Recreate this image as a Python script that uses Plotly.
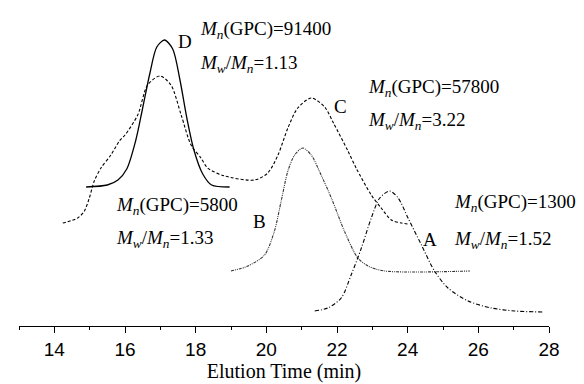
import plotly.graph_objects as go

# ---- data (elution time in min, detector response in arbitrary units) ----
t_D = [14.90, 15.50, 15.80, 16.05, 16.30, 16.50, 16.70, 16.90, 17.12, 17.35, 17.55, 17.75, 17.95, 18.20, 18.45, 18.96]
y_D = [139, 141, 146, 157, 185, 218, 252, 279, 286, 277, 247, 208, 176, 152, 141, 139]

t_C = [14.24, 14.66, 14.85, 14.99, 15.13, 15.32, 15.60, 15.84, 16.00, 16.36, 16.64, 16.99, 17.30, 17.59, 17.87,
       18.15, 18.34, 18.82, 19.67, 20.04, 20.33, 20.61, 20.89, 21.27, 21.65, 21.90, 22.31, 22.54, 22.97, 23.25,
       23.54, 23.82, 24.01]
y_C = [103, 108, 115, 128, 145, 158, 171, 185, 191, 211, 241, 250, 241, 211, 181,
       168, 158, 150, 146, 153, 171, 198, 218, 228, 219, 203, 175, 158, 131, 118,
       106, 103, 102]

t_B = [19.00, 19.48, 19.95, 20.23, 20.42, 20.61, 20.80, 21.03, 21.27, 21.55, 21.84, 22.22, 22.59, 22.88, 23.35, 25.76]
y_B = [55, 60, 71, 95, 125, 155, 171, 178, 171, 151, 128, 94, 68, 60, 55, 55]

t_A = [21.37, 21.74, 22.12, 22.40, 22.69, 22.97, 23.21, 23.49, 23.73, 24.01, 24.39, 24.76, 25.14, 25.71, 26.37,
       27.03, 27.83]
y_A = [15, 18, 28, 51, 78, 108, 128, 135, 128, 108, 81, 55, 38, 25, 18, 15, 14]

curve_labels = ["A", "B", "C", "D"]
mn_labels = ["1300", "5800", "57800", "91400"]
pdi_labels = ["1.52", "1.33", "3.22", "1.13"]

x_ticks = [14, 16, 18, 20, 22, 24, 26, 28]

fig = go.Figure()

fig.add_trace(go.Scatter(x=t_D, y=y_D, mode="lines", name="D",
                         line=dict(color="black", width=1.3, shape="spline", smoothing=0.8)))
fig.add_trace(go.Scatter(x=t_C, y=y_C, mode="lines", name="C",
                         line=dict(color="black", width=1.1, dash="3px,2px", shape="spline", smoothing=0.8)))
fig.add_trace(go.Scatter(x=t_B, y=y_B, mode="lines", name="B",
                         line=dict(color="#333333", width=1.1, dash="3px,1px,1px,1px,1px,1px", shape="spline", smoothing=0.8)))
fig.add_trace(go.Scatter(x=t_A, y=y_A, mode="lines", name="A",
                         line=dict(color="black", width=1.1, dash="4px,2px,1px,2px", shape="spline", smoothing=0.8)))

serif = "Liberation Serif, Times New Roman, serif"
ann_font = dict(family=serif, size=19, color="black")

def mn_text(v):
    return "<i>M</i><sub><i>n</i></sub>(GPC)=" + v

def pdi_text(v):
    return "<i>M</i><sub><i>w</i></sub>/<i>M</i><sub><i>n</i></sub>=" + v

# label positions: (letter x, letter y, text x, line1 y, line2 y)
pos = {
    "A": (24.63, 87, 25.25, 123, 86),
    "B": (19.82, 105, 15.70, 120, 87),
    "C": (22.11, 220, 22.82, 238, 205),
    "D": (17.69, 285, 18.08, 296, 262),
}

annotations = []
for lab, mn, pdi in zip(curve_labels, mn_labels, pdi_labels):
    lx, ly, tx, y1, y2 = pos[lab]
    annotations.append(dict(x=lx, y=ly, text=lab, showarrow=False, xref="x", yref="y",
                            xanchor="center", yanchor="middle", font=ann_font))
    annotations.append(dict(x=tx, y=y1, text=mn_text(mn), showarrow=False, xref="x", yref="y",
                            xanchor="left", yanchor="middle", font=ann_font))
    annotations.append(dict(x=tx, y=y2, text=pdi_text(pdi), showarrow=False, xref="x", yref="y",
                            xanchor="left", yanchor="middle", font=ann_font))

fig.update_layout(
    width=584, height=384,
    margin=dict(l=11, r=43, t=0, b=66),
    paper_bgcolor="white", plot_bgcolor="white",
    showlegend=False,
    annotations=annotations,
    xaxis=dict(
        range=[13, 28], tickmode="array", tickvals=x_ticks, ticktext=[str(v) for v in x_ticks],
        showgrid=False, zeroline=False, showline=True, linecolor="black", linewidth=1.3,
        ticks="outside", ticklen=6, tickwidth=1.3, tickcolor="black",
        minor=dict(tickmode="linear", tick0=13, dtick=1, ticks="outside", ticklen=3, tickwidth=1.3, tickcolor="black"),
        tickfont=dict(family="Liberation Sans, Arial, sans-serif", size=19, color="black"),
        title=dict(text="Elution Time (min)", font=dict(family=serif, size=20, color="black"), standoff=4),
    ),
    yaxis=dict(range=[0, 318], visible=False, showgrid=False, zeroline=False),
)

fig.write_html("out.html")
